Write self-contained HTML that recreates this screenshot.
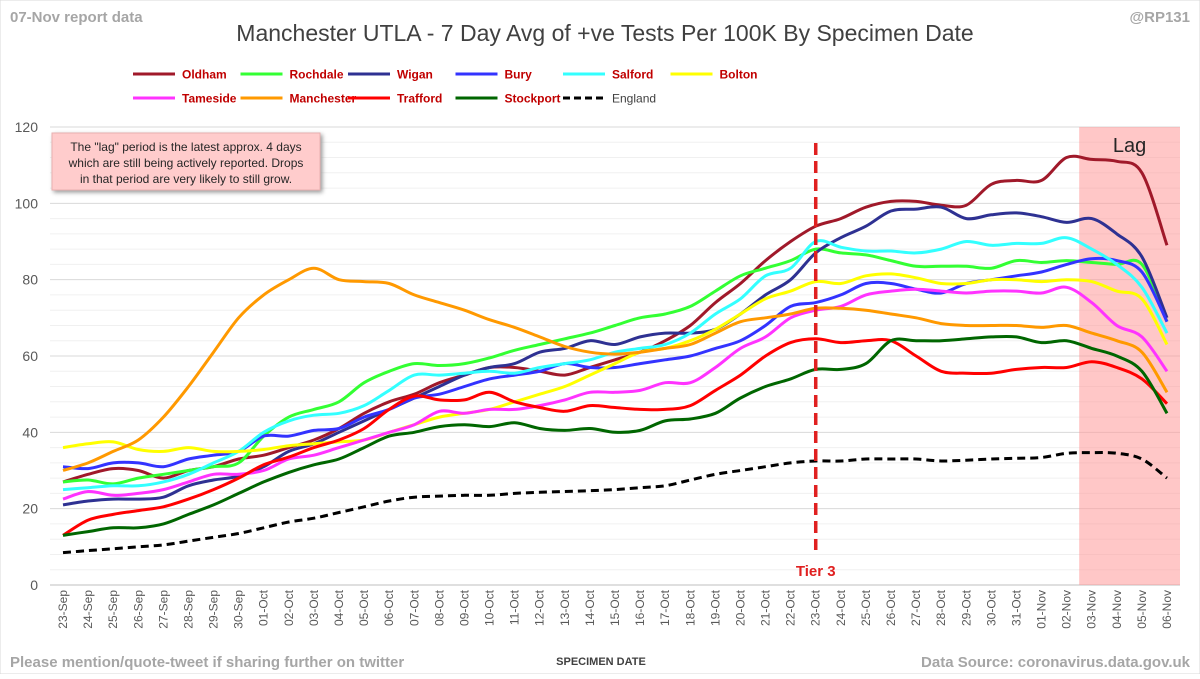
<!DOCTYPE html>
<html><head><meta charset="utf-8"><style>
body{margin:0;background:#fff;font-family:"Liberation Sans",sans-serif}
svg text{font-family:"Liberation Sans",sans-serif}
</style></head><body>
<svg id="c" width="1200" height="674" xmlns="http://www.w3.org/2000/svg">
<rect x="0" y="0" width="1200" height="674" fill="#fff" stroke="#d9d9d9"/>
<text x="10" y="22" font-size="15" font-weight="bold" fill="#a6a6a6">07-Nov report data</text>
<text x="1190" y="22" font-size="15" font-weight="bold" fill="#a6a6a6" text-anchor="end">@RP131</text>
<text x="605" y="41" font-size="23" fill="#404040" text-anchor="middle">Manchester UTLA - 7 Day Avg of +ve Tests Per 100K By Specimen Date</text>
<g id="grid"></g>
<rect id="lag" fill="#ff9999" fill-opacity="0.55"/>
<text id="lagt" font-size="20" fill="#262626" text-anchor="middle">Lag</text>
<g id="series"></g>
<line id="tier" stroke="#e02020" stroke-width="3.5" stroke-dasharray="12,6"/>
<text id="tiert" font-size="15" font-weight="bold" fill="#e02020" text-anchor="middle">Tier 3</text>
<g id="axes"></g>
<g>
<rect x="52" y="133" width="268" height="57" fill="#ffcccc" stroke="#e8b0b0" style="filter:drop-shadow(2px 2px 2px #999)"/>
<text x="186" y="151" font-size="12" fill="#262626" text-anchor="middle">The "lag" period is the latest approx. 4 days</text>
<text x="186" y="167" font-size="12" fill="#262626" text-anchor="middle">which are still being actively reported. Drops</text>
<text x="186" y="183" font-size="12" fill="#262626" text-anchor="middle">in that period are very likely to still grow.</text>
</g>
<g id="legend"></g>
<text x="601" y="665" font-size="11" font-weight="bold" fill="#404040" text-anchor="middle">SPECIMEN DATE</text>
<text x="10" y="667" font-size="15" font-weight="bold" fill="#a6a6a6">Please mention/quote-tweet if sharing further on twitter</text>
<text x="1190" y="667" font-size="15" font-weight="bold" fill="#a6a6a6" text-anchor="end">Data Source: coronavirus.data.gov.uk</text>
</svg>
<script>
const dates=["23-Sep","24-Sep","25-Sep","26-Sep","27-Sep","28-Sep","29-Sep","30-Sep","01-Oct","02-Oct","03-Oct","04-Oct","05-Oct","06-Oct","07-Oct","08-Oct","09-Oct","10-Oct","11-Oct","12-Oct","13-Oct","14-Oct","15-Oct","16-Oct","17-Oct","18-Oct","19-Oct","20-Oct","21-Oct","22-Oct","23-Oct","24-Oct","25-Oct","26-Oct","27-Oct","28-Oct","29-Oct","30-Oct","31-Oct","01-Nov","02-Nov","03-Nov","04-Nov","05-Nov","06-Nov"];
const yTicks=[0,20,40,60,80,100,120];
const names=["Oldham","Rochdale","Wigan","Bury","Salford","Bolton","Tameside","Manchester","Trafford","Stockport","England"];
const oldham=[27,29,30.5,30,28,30,31,33,34,36,38,41,45,48,50,53,55,57,57,56,55,57,59,61,64,68,74,79,85,90,94,96,99,100.5,100.5,99.5,99.5,105,106,106,112,111.5,111,108,89];
const rochdale=[27,27.5,26.5,28,29,30,31,32,39,44,46,48,53,56,58,57.5,58,59.5,61.5,63,64.5,66,68,70,71,73,77,81,83,85,88,87,86.5,85,83.5,83.5,83.5,83,85,84.5,85,84.5,84,84,69];
const wigan=[21,22,22.5,22.5,23,26,27.5,28.5,31,35,37,40,43,46,49,52,55,57,58,61,62,64,63,65,66,66,67,71,76,80,87,91,94,98,98.5,99,96,97,97.5,96.5,95,96,92,86,70];
const bury=[31,30.5,32,32,31,33,34,35,39,39,40.5,41,44,46,49,50,52,54,55,56,58,57,57,58,59,60,62,64,68,73,74,76,79,79,77.5,76.5,79,80,81,82,84,85.5,85,82,69];
const salford=[25,25.5,26,26,27,29,32,35,40,43,44.5,45,47,51,55,55,55.5,56,55.5,57,58,59,61,62,63,66,71,75,81,83,90,88.5,87.5,87.5,87,88,90,89,89.5,89.5,91,88,84,78,66];
const bolton=[36,37,37.5,35.5,35,36,35,35,35.5,36.5,37,37.5,38,40,42,44,45,46,48,50,52,55,58,61,62,64,67,71,75,77,79.5,79,81,81.5,80.5,79,79,80,80,79.5,80,79.5,77,75,63];
const tameside=[22.5,24.5,23.5,24,25,27,29,29,30,33,34,36,38,40,42,45.5,45,46,46,47,48.5,50.5,50.5,51,53,53,57,62,65,70,72,73,76,77,77.5,77,76.5,77,77,76.5,78,74,68,65,56];
const manchester=[30,32,35,38,44,52,61,70,76,80,83,80,79.5,79,76,74,72,69.5,67.5,65,62.5,61,60.5,61,62,63,66,69,70,71,72.5,72.5,72,71,70,68.5,68,68,68,67.5,68,66,64,61,50.5];
const trafford=[13,17,18.5,19.5,20.5,22.5,25,28,31.5,33.5,36,38,41,46,49.5,48.5,48.5,50.5,48,46.5,45.5,47,46.5,46,46,47,51,55,60,63.5,64.5,63.5,64,64,60,56,55.5,55.5,56.5,57,57,58.5,57,54,47.5];
const stockport=[13,14,15,15,16,18.5,21,24,27,29.5,31.5,33,36,39,40,41.5,42,41.5,42.5,41,40.5,41,40,40.5,43,43.5,45,49,52,54,56.5,56.5,58,64,64,64,64.5,65,65,63.5,64,62,60,56,45];
const england=[8.5,9,9.5,10,10.5,11.5,12.5,13.5,15,16.5,17.5,19,20.5,22,23,23.3,23.5,23.5,24,24.3,24.5,24.7,25,25.5,26,27.5,29,30,31,32,32.5,32.5,33,33,33,32.5,32.7,33,33.2,33.4,34.5,34.7,34.5,33,28];
const tierIndex=30, lagStart=40.5;
const colors=["#a0192a","#33ff33","#2e3192","#3333ff","#33ffff","#ffff00","#ff33ff","#ff9900","#ff0000","#006600","#000000"];
const all=[oldham,rochdale,wigan,bury,salford,bolton,tameside,manchester,trafford,stockport,england];
const NS="http://www.w3.org/2000/svg";
const X0=50,X1=1180,Y0=585,Y1=127;
const xs=i=>63+i*(1167-63)/(dates.length-1);
const ys=v=>Y0-(v/120)*(Y0-Y1);
function mk(t,a,p){const e=document.createElementNS(NS,t);for(const k in a)e.setAttribute(k,a[k]);(p||document.getElementById('c')).appendChild(e);return e;}
function smooth(d){
 const P=d.map((v,i)=>[xs(i),ys(v)]);
 let s='M'+P[0][0].toFixed(1)+','+P[0][1].toFixed(1);
 for(let i=0;i<P.length-1;i++){
  const p0=P[i-1]||P[i],p1=P[i],p2=P[i+1],p3=P[i+2]||p2;
  const c1=[p1[0]+(p2[0]-p0[0])/6,p1[1]+(p2[1]-p0[1])/6],c2=[p2[0]-(p3[0]-p1[0])/6,p2[1]-(p3[1]-p1[1])/6];
  s+=`C${c1[0].toFixed(1)},${c1[1].toFixed(1)} ${c2[0].toFixed(1)},${c2[1].toFixed(1)} ${p2[0].toFixed(1)},${p2[1].toFixed(1)}`;
 }
 return s;
}
const grid=document.getElementById('grid');
for(let v=4;v<120;v+=4){if(v%20)mk('line',{x1:X0,x2:X1,y1:ys(v),y2:ys(v),stroke:'#f0f0f0'},grid);}
yTicks.forEach(v=>{
 const l=mk('line',{x1:X0,x2:X1,y1:ys(v),y2:ys(v),stroke:v?'#d9d9d9':'#bfbfbf'},grid);
 
 
 const t=mk('text',{x:38,y:ys(v)+5,'font-size':14,fill:'#595959','text-anchor':'end'},grid);t.textContent=v;
 
 
});
const lag=document.getElementById('lag');
const lx=xs(lagStart);
lag.setAttribute('x',lx);lag.setAttribute('y',Y1);lag.setAttribute('width',X1-lx);lag.setAttribute('height',Y0-Y1);
const lt=document.getElementById('lagt');lt.setAttribute('x',(lx+X1)/2);lt.setAttribute('y',152);
const sg=document.getElementById('series');
all.forEach((d,k)=>{
 const p=mk('path',{d:smooth(d),fill:'none',stroke:colors[k],'stroke-width':3,'stroke-linejoin':'round'},sg);
 if(k==10)p.setAttribute('stroke-dasharray','8,5');
 
 
});
const tl=document.getElementById('tier');const tx=xs(tierIndex);
tl.setAttribute('x1',tx);tl.setAttribute('x2',tx);tl.setAttribute('y1',143);tl.setAttribute('y2',550);
const tt=document.getElementById('tiert');tt.setAttribute('x',tx);tt.setAttribute('y',576);
const ax=document.getElementById('axes');
dates.forEach((d,i)=>{
 const t=mk('text',{x:0,y:0,'font-size':12,fill:'#595959','text-anchor':'end',transform:`translate(${xs(i)+4},590) rotate(-90)`},ax);t.textContent=d;
 
 
});
const lg=document.getElementById('legend');
names.forEach((n,k)=>{
 const col=k<6?k:k-6,row=k<6?0:1;
 const x=133+col*107.5,y=row?98:74;
 const g=mk('g',{},lg);
 
 
 const l=mk('line',{x1:x,x2:x+42,y1:y,y2:y,stroke:colors[k],'stroke-width':3},g);
 if(k==10)l.setAttribute('stroke-dasharray','7,4');
 const t=mk('text',{x:x+49,y:y+4.5,'font-size':12,'font-weight':k==10?'normal':'bold',fill:k==10?'#404040':'#c00000'},g);t.textContent=n;
});
</script>
</body></html>
